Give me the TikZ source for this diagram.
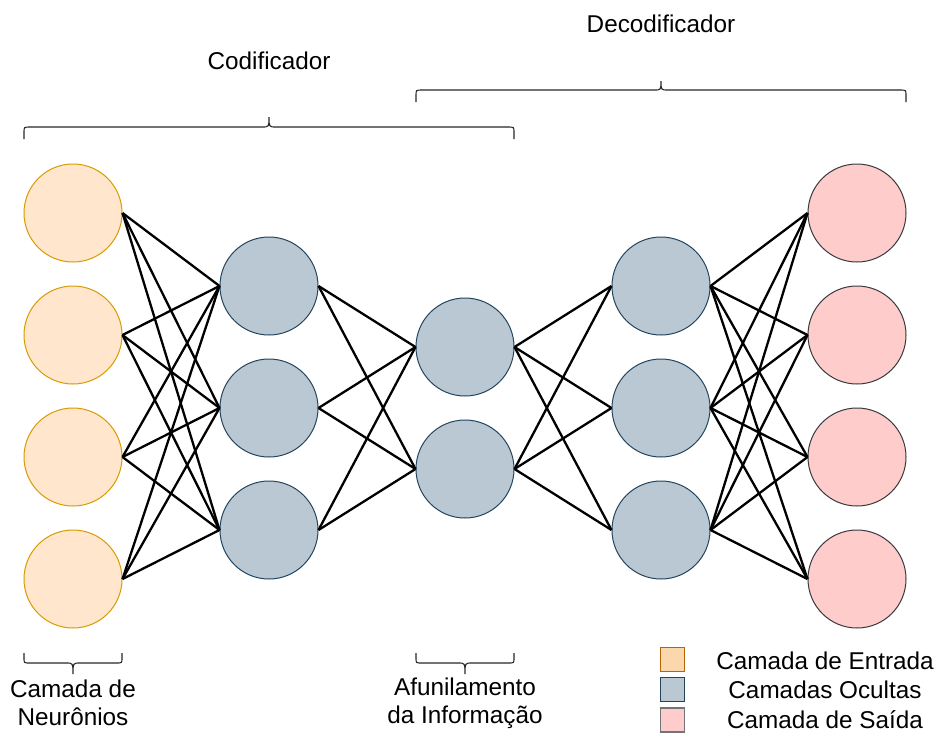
\documentclass[tikz,border=0pt]{standalone}
\usepackage{fontspec}
\setmainfont{Liberation Sans}
\definecolor{inFill}{HTML}{FFE6CC}
\definecolor{inLine}{HTML}{D79B00}
\definecolor{hidFill}{HTML}{BAC8D3}
\definecolor{hidLine}{HTML}{23445D}
\definecolor{outFill}{HTML}{FFCCCC}
\definecolor{outLine}{HTML}{36393D}
\definecolor{keyInFill}{HTML}{FAD7AC}
\definecolor{keyInLine}{HTML}{B46504}
\tikzset{
  neuron/.style={circle, minimum size=98pt, inner sep=0pt, line width=1pt},
  inneuron/.style={neuron, draw=inLine, fill=inFill},
  hidneuron/.style={neuron, draw=hidLine, fill=hidFill},
  outneuron/.style={neuron, draw=outLine, fill=outFill},
  link/.style={line width=2.3pt, black},
  bracket/.style={line width=1.1pt, black!85},
  label/.style={font=\fontsize{24.3}{28}\selectfont, align=center, inner sep=0pt},
  keybox/.style={minimum size=24pt, inner sep=0pt, line width=1.5pt}
}
% curly bracket: #1,#2 end x; #3 line y; #4 leg length (signed); #5 tip length (signed)
\newcommand\curlybracket[5]{%
  \pgfmathsetmacro\cbmid{(#1+#2)/2}%
  \draw[bracket] (#1,{#3+#4}) -- (#1,{#3+0.45*#4})
    .. controls (#1,#3) and (#1,#3) .. ({#1+6},#3) -- ({\cbmid-7},#3)
    .. controls (\cbmid,#3) and (\cbmid,#3) .. (\cbmid,{#3+#5})
    .. controls (\cbmid,#3) and (\cbmid,#3) .. ({\cbmid+7},#3) -- ({#2-6},#3)
    .. controls (#2,#3) and (#2,#3) .. (#2,{#3+0.45*#4}) -- (#2,{#3+#4});%
}
\begin{document}
\begin{tikzpicture}[x=1pt, y=-1pt]
\useasboundingbox (0,0) rectangle (939,734);

% input layer
\foreach \k/\yy in {1/213, 2/335, 3/457, 4/579}
  \node[inneuron] (in\k) at (73,\yy) {};
% first hidden layer
\foreach \k/\yy in {1/286, 2/408, 3/530}
  \node[hidneuron] (ha\k) at (269,\yy) {};
% bottleneck
\foreach \k/\yy in {1/347, 2/469}
  \node[hidneuron] (bn\k) at (465,\yy) {};
% second hidden layer
\foreach \k/\yy in {1/286, 2/408, 3/530}
  \node[hidneuron] (hb\k) at (661,\yy) {};
% output layer
\foreach \k/\yy in {1/213, 2/335, 3/457, 4/579}
  \node[outneuron] (out\k) at (857,\yy) {};

% fully connected links
\foreach \i in {1,...,4} \foreach \j in {1,2,3}
  \draw[link] (in\i.east) -- (ha\j.west);
\foreach \i in {1,2,3} \foreach \j in {1,2}
  \draw[link] (ha\i.east) -- (bn\j.west);
\foreach \i in {1,2} \foreach \j in {1,2,3}
  \draw[link] (bn\i.east) -- (hb\j.west);
\foreach \i in {1,2,3} \foreach \j in {1,...,4}
  \draw[link] (hb\i.east) -- (out\j.west);

% encoder / decoder brackets
\curlybracket{24}{514}{127}{12}{-10}
\node[label] (enc) at (269,61) {Codificador};
\curlybracket{416}{906}{90}{12}{-9}
\node[label] (dec) at (661,24) {Decodificador};

% bottom brackets
\curlybracket{24}{122}{663}{-10}{11}
\node[label] (layerlbl) at (73,703) {Camada de\\Neurônios};
\curlybracket{416}{514}{663}{-10}{11}
\node[label] (bottlbl) at (465,703) {Afunilamento\\da Informação};

% legend
\node[keybox, draw=keyInLine, fill=keyInFill] (key1) at (672.5,659.5) {};
\node[keybox, draw=hidLine, fill=hidFill] (key2) at (672.5,689.5) {};
\node[keybox, draw=outLine!70, fill=outFill] (key3) at (672.5,720) {};
\node[label] (key1txt) at (825,661) {Camada de Entrada};
\node[label] (key2txt) at (825,690) {Camadas Ocultas};
\node[label] (key3txt) at (825,720) {Camada de Saída};
\end{tikzpicture}
\end{document}
